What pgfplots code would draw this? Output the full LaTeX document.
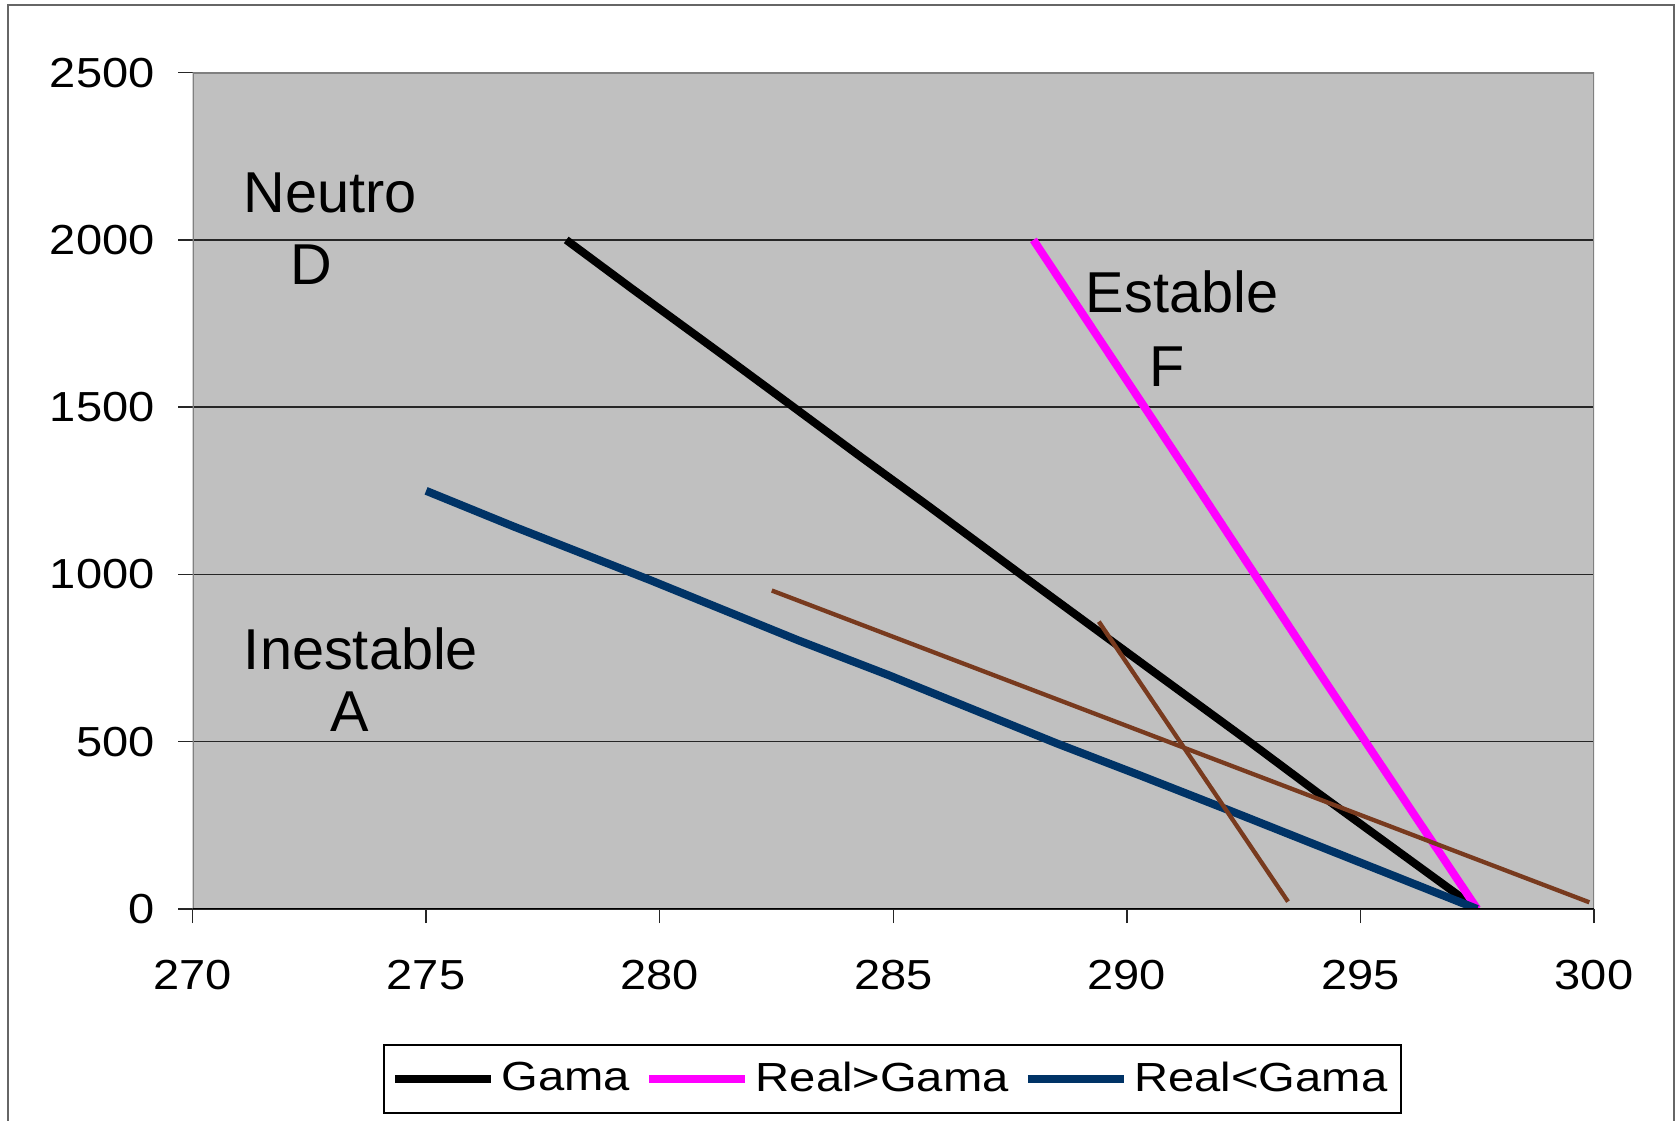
\documentclass[border=0pt]{standalone}
\usepackage{fontspec}
\setmainfont{Liberation Sans}
\usepackage{graphicx}
\usepackage{pgfplots}
\pgfplotsset{compat=1.18}

\definecolor{plotgrey}{RGB}{192,192,192}
\definecolor{navyline}{RGB}{0,51,102}
\definecolor{magentaline}{RGB}{255,0,255}
\definecolor{brownline}{RGB}{120,58,30}
\definecolor{plotframe}{RGB}{128,128,128}

% slightly widened glyphs for tick labels and legend entries
\newcommand\ticklab[1]{\scalebox{1.12}[1]{#1}}
\newcommand\legtext[1]{\scalebox{1.16}[1]{#1}}

\begin{document}
\begin{tikzpicture}
\useasboundingbox (0,0) rectangle (503.1bp,336.3bp);
\fill[white] (0,0) rectangle (503.1bp,336.3bp);
% chart area frame
\draw[black!60, line width=0.7bp] (2.4bp,-3bp) -- (2.4bp,334.8bp) -- (502.1bp,334.8bp) -- (502.1bp,-3bp);

\begin{axis}[
  at={(57.75bp,63.6bp)}, anchor=south west,
  scale only axis, width=420.45bp, height=250.9bp,
  xmin=270, xmax=300, ymin=0, ymax=2500,
  xtick={270,275,...,300}, ytick={0,500,...,2500},
  scaled ticks=false,
  axis line style={draw=none},
  axis background/.style={fill=plotgrey},
  ymajorgrids, grid style={black!85, line width=0.45bp},
  tick align=outside, tick pos=left, major tick length=4.2bp,
  tick style={black!85, line width=0.45bp},
  /pgf/number format/1000 sep={},
  /pgf/number format/assume math mode=true,
  ticklabel style={font=\fontsize{12.6bp}{14bp}\selectfont, inner sep=0pt},
  xticklabel={\ticklab{\pgfmathprintnumber{\tick}}},
  yticklabel={\ticklab{\pgfmathprintnumber{\tick}}},
  xticklabel style={yshift=-11bp},
  yticklabel style={xshift=-7bp},
  legend columns=3, legend cell align=left,
  legend style={at={(0.4995,-0.2033)}, anchor=center, draw=black,
    line width=0.6bp, fill=white, inner xsep=2bp, inner ysep=3bp,
    font=\fontsize{12.2bp}{14bp}\selectfont,
    /tikz/every odd column/.style={column sep=0bp},
    /tikz/every even column/.style={column sep=2.5bp}},
  legend image code/.code={\draw[#1] (0bp,0bp) -- (28.8bp,0bp);},
]
% dry adiabatic profile
\addplot[black, line width=2.4bp] coordinates {
  (278.0,2000) (279.4,1855) (281.45,1646) (282.8,1507) (284.3,1352)
  (285.72,1208) (287.8,993) (290.72,694) (292.67,495) (294.1,346) (297.5,0)};
\addlegendentry{\legtext{Gama}}
\addplot[magentaline, line width=2.4bp] coordinates {
  (288.0,2000) (290.37,1502) (291.27,1312) (294.18,694) (297.5,0)};
\addlegendentry{\legtext{Real>Gama}}
\addplot[navyline, line width=2.4bp] coordinates {
  (275,1250) (276.88,1143) (279.8,983) (282.95,804) (284.9,699)
  (288.5,495) (290.27,400) (292.17,296) (294.15,186) (297.5,0)};
\addlegendentry{\legtext{Real<Gama}}
% two sample profiles
\addplot[brownline, line width=1.3bp, forget plot] coordinates {(282.4,952) (299.9,20)};
\addplot[brownline, line width=1.3bp, forget plot] coordinates {(289.4,859) (293.45,22)};
% plot area border
\draw[plotframe, line width=0.6bp] (rel axis cs:0,0) -- (rel axis cs:0,1) -- (rel axis cs:1,1) -- (rel axis cs:1,0);
\draw[black, line width=0.6bp] (rel axis cs:0,0) -- (rel axis cs:1,0);
\end{axis}

% stability classes
\begin{scope}[every node/.style={anchor=base, inner sep=0pt, font=\fontsize{17.3bp}{20bp}\selectfont}]
\node at (99bp,272.4bp) {Neutro};
\node at (93.3bp,250.8bp) {D};
\node at (354.6bp,242.4bp) {Estable};
\node at (350.1bp,220.2bp) {F};
\node at (108.3bp,135.3bp) {Inestable};
\node at (105bp,116.7bp) {A};
\end{scope}
\end{tikzpicture}
\end{document}
